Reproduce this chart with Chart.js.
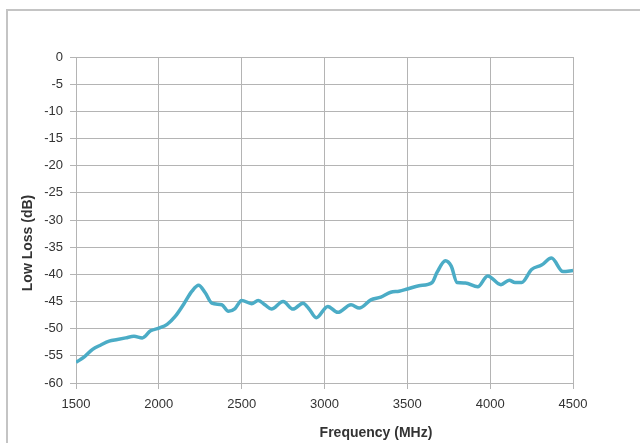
<!DOCTYPE html>
<html>
<head>
<meta charset="utf-8">
<script src="https://cdn.jsdelivr.net/npm/chart.js@4/dist/chart.umd.min.js"></script>
<style>
  body { margin: 0; background: #fff; }
  #wrap { position: relative; width: 640px; height: 443px; }
</style>
</head>
<body>
<div id="wrap"><canvas id="myChart" width="640" height="443"></canvas></div>
<script>
// data
const freqs = [1500, 1550, 1600, 1650, 1700, 1750, 1800, 1850, 1900, 1950,
  2000, 2050, 2100, 2150, 2200, 2240, 2280, 2320, 2380, 2420,
  2460, 2500, 2560, 2600, 2640, 2680, 2750, 2810, 2870, 2910,
  2950, 3020, 3080, 3160, 3210, 3280, 3340, 3400, 3450, 3500,
  3570, 3650, 3680, 3730, 3765, 3800, 3850, 3925, 3985, 4065,
  4115, 4150, 4190, 4250, 4310, 4370, 4440, 4500];
const loss = [-56.2, -55.2, -53.8, -53.0, -52.3, -52.0, -51.7, -51.4, -51.7, -50.4,
  -49.9, -49.2, -47.7, -45.5, -43.1, -42.0, -43.4, -45.3, -45.6, -46.8,
  -46.3, -44.8, -45.4, -44.8, -45.6, -46.4, -45.0, -46.4, -45.3, -46.5,
  -48.0, -45.9, -47.0, -45.6, -46.2, -44.7, -44.2, -43.3, -43.1, -42.7,
  -42.1, -41.5, -39.6, -37.5, -38.5, -41.5, -41.6, -42.3, -40.3, -41.9,
  -41.1, -41.5, -41.5, -39.1, -38.3, -37.0, -39.5, -39.3];
const xTitle = 'Frequency (MHz)';
const yTitle = 'Low Loss (dB)';

const points = freqs.map((f, i) => ({ x: f, y: loss[i] }));
const font = { family: 'Liberation Sans', size: 13 };

const frame = {
  id: 'frame',
  beforeDraw(chart) {
    const c = chart.ctx;
    c.save();
    c.fillStyle = '#fff';
    c.fillRect(0, 0, chart.width, chart.height);
    c.strokeStyle = '#c4c4c4';
    c.lineWidth = 2;
    c.strokeRect(7, 10, 640, 440);
    c.restore();
  },
  afterDraw(chart) {
    const c = chart.ctx;
    c.save();
    c.fillStyle = '#333';
    c.font = 'bold 14px "Liberation Sans"';
    c.textAlign = 'center';
    c.textBaseline = 'middle';
    c.fillText(xTitle, 376, 433);
    c.translate(28, 243);
    c.rotate(-Math.PI / 2);
    c.fillText(yTitle, 0, 0);
    c.restore();
  }
};

new Chart(document.getElementById('myChart'), {
  type: 'line',
  data: {
    datasets: [{
      data: points,
      borderColor: '#4bacc6',
      borderWidth: 3.5,
      pointRadius: 0,
      cubicInterpolationMode: 'monotone',
      fill: false
    }]
  },
  options: {
    responsive: false,
    animation: false,
    layout: { padding: { top: 57, right: 67, left: 0, bottom: 0 } },
    plugins: { legend: { display: false }, tooltip: { enabled: false } },
    scales: {
      x: {
        type: 'linear',
        min: 1500, max: 4500,
        afterFit(s) { s.height = 60; },
        ticks: { stepSize: 500, color: '#333', font: font, padding: 8, maxRotation: 0,
          callback: v => String(v) },
        grid: { color: '#b4b4b4', tickLength: 6 },
        border: { color: '#b4b4b4' }
      },
      y: {
        min: -60, max: 0,
        afterFit(s) { s.width = 76; },
        ticks: { stepSize: 5, color: '#333', font: font, padding: 7 },
        grid: { color: '#b4b4b4', tickLength: 6 },
        border: { color: '#b4b4b4' }
      }
    }
  },
  plugins: [frame]
});
</script>
</body>
</html>
